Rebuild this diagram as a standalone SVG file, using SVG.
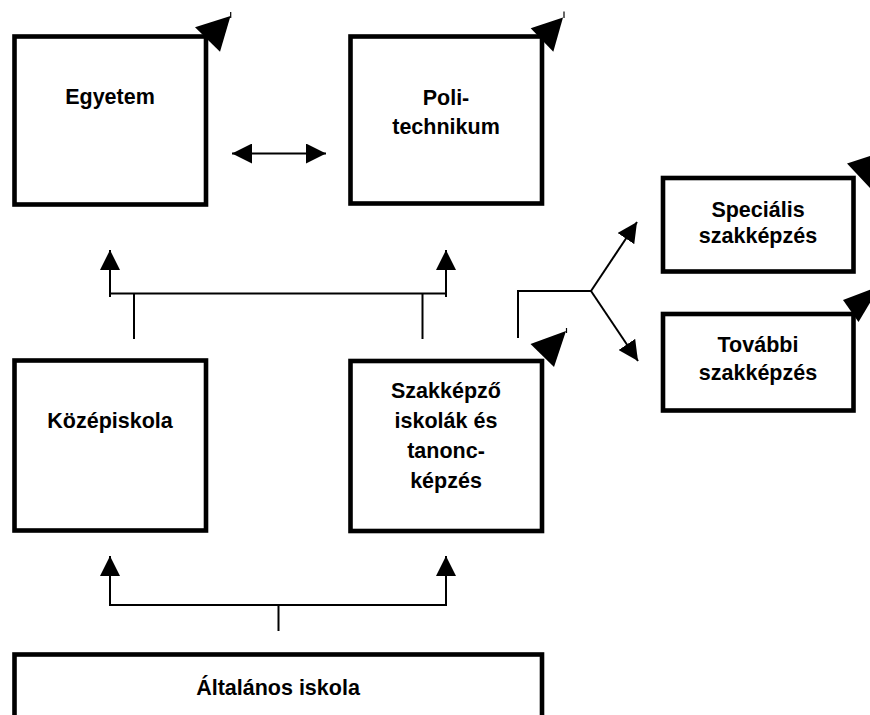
<svg xmlns="http://www.w3.org/2000/svg" width="870" height="715" viewBox="0 0 870 715">
<style>
.box{fill:#fff;stroke:#000;stroke-width:4.6}
.lbl{font-family:"Liberation Sans",Arial,sans-serif;font-weight:bold;font-size:21.5px;text-anchor:middle;fill:#000}
.con{fill:none;stroke:#000;stroke-width:2}
.tri{fill:#000;stroke:none}
.stub{stroke:#000;stroke-width:1.2}
</style>
<defs>
<marker id="ah" markerUnits="userSpaceOnUse" markerWidth="20" markerHeight="20" refX="20" refY="10" orient="auto-start-reverse" viewBox="0 0 20 20">
<path d="M0,0 L20,10 L0,20 z" fill="#000"/>
</marker>
</defs>
<rect width="870" height="715" fill="#fff"/>
<g id="egyetem">
<rect class="box" x="14.5" y="36.5" width="191.5" height="168"/>
<text class="lbl" x="110" y="104">Egyetem</text>
</g>
<g id="politechnikum">
<rect class="box" x="350.5" y="36.5" width="191.5" height="167"/>
<text class="lbl" x="446" y="105">Poli-</text>
<text class="lbl" x="446" y="134">technikum</text>
</g>
<g id="specialis">
<rect class="box" x="663" y="178" width="190.5" height="93.5"/>
<text class="lbl" x="758" y="217">Speciális</text>
<text class="lbl" x="758" y="243">szakképzés</text>
</g>
<g id="tovabbi">
<rect class="box" x="663" y="314" width="190.5" height="96.5"/>
<text class="lbl" x="758" y="352">További</text>
<text class="lbl" x="758" y="380">szakképzés</text>
</g>
<g id="kozepiskola">
<rect class="box" x="14.5" y="360.5" width="191.5" height="170"/>
<text class="lbl" x="110" y="428">Középiskola</text>
</g>
<g id="szakkepzo">
<rect class="box" x="350.5" y="361" width="191.5" height="170"/>
<text class="lbl" x="446" y="398">Szakképző</text>
<text class="lbl" x="446" y="428">iskolák és</text>
<text class="lbl" x="446" y="458">tanonc-</text>
<text class="lbl" x="446" y="488">képzés</text>
</g>
<g id="altalanos">
<rect class="box" x="14.5" y="654.5" width="527.5" height="80"/>
<text class="lbl" x="278" y="695">Általános iskola</text>
</g>
<g id="corner-marks">
<polygon class="tri" points="195,27.3 230.5,16 220,51.7"/>
<line class="stub" x1="230.7" y1="12" x2="230.7" y2="18"/>
<polygon class="tri" points="530.7,28.3 563,17.5 553.3,51.7"/>
<line class="stub" x1="564" y1="11.5" x2="564" y2="18"/>
<polygon class="tri" points="530.5,344 566,331 554,367"/>
<line class="stub" x1="566.5" y1="328" x2="566.5" y2="333"/>
<polygon class="tri" points="847,163.5 882,152 872,190"/>
<polygon class="tri" points="843,300 880,286 858.5,322"/>
</g>
<g id="connectors">
<line class="con" x1="232" y1="153.5" x2="326" y2="153.5" marker-start="url(#ah)" marker-end="url(#ah)"/>
<line class="con" x1="110" y1="297" x2="110" y2="250" marker-end="url(#ah)"/>
<line class="con" x1="446" y1="297" x2="446" y2="250" marker-end="url(#ah)"/>
<line class="con" x1="110" y1="293.5" x2="446" y2="293.5"/>
<line class="con" x1="134" y1="293.5" x2="134" y2="339"/>
<line class="con" x1="422.5" y1="293.5" x2="422.5" y2="339"/>
<polyline class="con" points="518,338 518,291 591,291"/>
<line class="con" x1="591" y1="291" x2="637" y2="222" marker-end="url(#ah)"/>
<line class="con" x1="591" y1="291" x2="638" y2="361" marker-end="url(#ah)"/>
<line class="con" x1="110" y1="605" x2="110" y2="556" marker-end="url(#ah)"/>
<line class="con" x1="446" y1="605" x2="446" y2="556" marker-end="url(#ah)"/>
<line class="con" x1="109" y1="605" x2="447" y2="605"/>
<line class="con" x1="278.5" y1="605" x2="278.5" y2="631"/>
</g>
</svg>
